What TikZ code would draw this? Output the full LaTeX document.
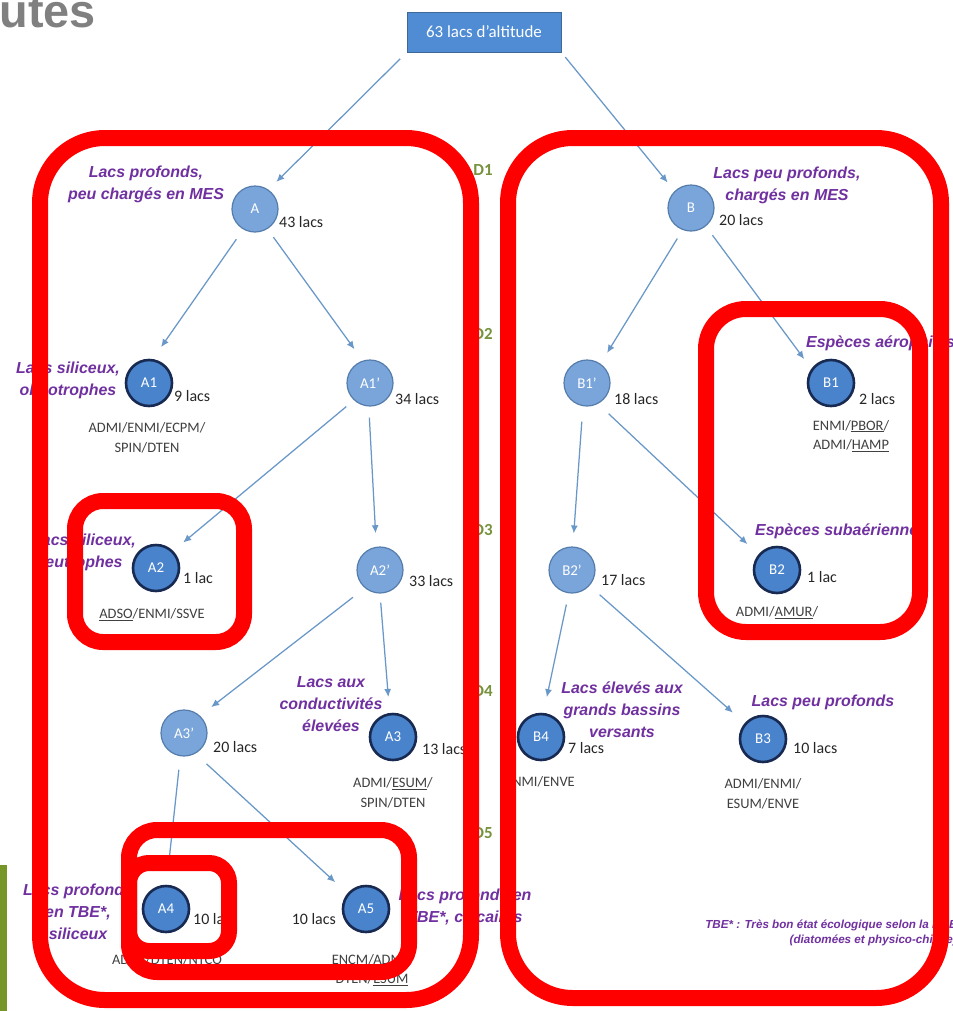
\documentclass[tikz,border=0pt]{standalone}
\usepackage{fontspec}
\setmainfont{Carlito}
\newfontfamily\lab{Liberation Sans}
\usetikzlibrary{arrows.meta}
\definecolor{redb}{RGB}{255,0,0}
\definecolor{arrowc}{RGB}{105,152,200}
\definecolor{lightfill}{RGB}{122,165,218}
\definecolor{lightdraw}{RGB}{85,125,172}
\definecolor{darkfill}{RGB}{72,131,204}
\definecolor{darkdraw}{RGB}{24,42,82}
\definecolor{purp}{RGB}{112,48,160}
\definecolor{dgreen}{RGB}{118,146,60}
\definecolor{codec}{RGB}{64,64,64}
\definecolor{boxfill}{RGB}{79,140,212}
\definecolor{boxdraw}{RGB}{62,104,150}
\definecolor{barg}{RGB}{118,150,40}
\begin{document}
\begin{tikzpicture}[x=1bp,y=-1bp,
  lightc/.style={circle,minimum size=46bp,inner sep=0pt,fill=lightfill,draw=lightdraw,line width=1.2bp,text=white,font=\fontsize{15}{15}\selectfont},
  darkc/.style={circle,minimum size=46bp,inner sep=0pt,fill=darkfill,draw=darkdraw,line width=2.6bp,text=white,font=\fontsize{15}{15}\selectfont},
  cnt/.style={anchor=west,inner sep=0pt,text=black!85,font=\fontsize{16}{16}\selectfont},
  code/.style={inner sep=0pt,align=center,text=codec,font=\fontsize{14.5}{20}\selectfont},
  plab/.style={inner sep=0pt,align=center,text=purp,font=\lab\bfseries\itshape\fontsize{16}{22}\selectfont},
  dlab/.style={inner sep=0pt,text=dgreen,font=\bfseries\fontsize{17}{17}\selectfont},
  redframe/.style={draw=redb,line width=16bp},
  arr/.style={draw=arrowc,line width=1.25bp,-{Latex[length=8bp,width=7bp]}}]
\useasboundingbox (0,0) rectangle (953,1011);
\clip (0,0) rectangle (953,1011);
\fill[white] (0,0) rectangle (953,1011);

% title fragment and side bar
\node[anchor=base east,inner sep=0pt,text=black!50,font=\lab\bfseries\fontsize{47}{47}\selectfont] (title) at (96,27) {utes};
\fill[barg] (0,865) rectangle (7,1011);

% top box
\node[rectangle,minimum width=154bp,minimum height=40bp,fill=boxfill,draw=boxdraw,line width=1bp,text=white,font=\fontsize{17}{17}\selectfont] (top) at (484,32) {63 lacs d’altitude};

% circles
\node[lightc] (A) at (255,209) {A};
\node[lightc] (B) at (691,208) {B};
\node[darkc] (A1) at (149,383) {A1};
\node[lightc] (A1p) at (370,383) {A1’};
\node[darkc] (A2) at (156,568) {A2};
\node[lightc] (A2p) at (380,570) {A2’};
\node[lightc] (A3p) at (184,733) {A3’};
\node[darkc] (A3) at (393,737) {A3};
\node[darkc] (A4) at (166,909) {A4};
\node[darkc] (A5) at (366,909) {A5};
\node[lightc] (B1p) at (587,383) {B1’};
\node[darkc] (B1) at (831,383) {B1};
\node[lightc] (B2p) at (572,570) {B2’};
\node[darkc] (B2) at (777,570) {B2};
\node[darkc] (B4) at (541,737) {B4};
\node[darkc] (B3) at (763,739) {B3};

% counts
\node[cnt] (nA) at (279,222) {43 lacs};
\node[cnt] (nB) at (719,220) {20 lacs};
\node[cnt] (nA1) at (174,396) {9 lacs};
\node[cnt] (nA1p) at (395,399) {34 lacs};
\node[cnt] (nA2) at (183,578) {1 lac};
\node[cnt] (nA2p) at (409,581) {33 lacs};
\node[cnt] (nA3p) at (213,747) {20 lacs};
\node[cnt] (nA3) at (422,749) {13 lacs};
\node[cnt] (nA4) at (193,919) {10 lacs};
\node[cnt,anchor=east] (nA5) at (336,919) {10 lacs};
\node[cnt] (nB1p) at (614,399) {18 lacs};
\node[cnt] (nB1) at (859,399) {2 lacs};
\node[cnt] (nB2p) at (601,580) {17 lacs};
\node[cnt] (nB2) at (807,577) {1 lac};
\node[cnt] (nB4) at (568,748) {7 lacs};
\node[cnt] (nB3) at (793,748) {10 lacs};

% codes
\node[code] (cA1) at (147,438) {ADMI/ENMI/ECPM/\\SPIN/DTEN};
\node[code] (cA2) at (152,615) {\underline{ADSO}/ENMI/SSVE};
\node[code] (cA3) at (393,793) {ADMI/\underline{ESUM}/\\SPIN/DTEN};
\node[code] (cA4) at (167,960) {ADMI/DTEN/NTCO};
\node[code] (cA5) at (372,970) {ENCM/ADMI/\\DTEN/\underline{ESUM}};
\node[code] (cB1) at (851,436) {ENMI/\underline{PBOR}/\\ADMI/\underline{HAMP}};
\node[code] (cB2) at (777,613) {ADMI/\underline{AMUR}/};
\node[code] (cB4) at (540,782) {ENMI/ENVE};
\node[code] (cB3) at (763,794) {ADMI/ENMI/\\ESUM/ENVE};

% purple labels
\node[plab] (lA) at (146,184) {Lacs profonds,\\peu chargés en MES};
\node[plab] (lB) at (787,185) {Lacs peu profonds,\\chargés en MES};
\node[plab] (lA1) at (68,380) {Lacs siliceux,\\oligotrophes};
\node[plab] (lA2) at (84,552) {Lacs siliceux,\\eutrophes};
\node[plab] (lA3) at (331,704) {Lacs aux\\conductivités\\élevées};
\node[plab] (lA4) at (78,912) {Lacs profonds\\en TBE*,\\siliceux};
\node[plab] (lA5) at (465,907) {Lacs profonds en\\TBE*, calcaires};
\node[plab,anchor=west] (lB1) at (806,343) {Espèces aérophiles};
\node[plab,anchor=west] (lB2) at (755,531) {Espèces subaériennes};
\node[plab] (lB4) at (622,710) {Lacs élevés aux\\grands bassins\\versants};
\node[plab] (lB3) at (823,702) {Lacs peu profonds};
\node[inner sep=0pt,align=right,anchor=east,text=purp,font=\lab\bfseries\itshape\fontsize{11.7}{15}\selectfont] (foot) at (957,933) {TBE* : Très bon état écologique selon la DCE\\(diatomées et physico-chimie)};

% level labels
\node[dlab] (D1) at (483,170) {D1};
\node[dlab] (D2) at (483,334) {D2};
\node[dlab] (D3) at (483,530) {D3};
\node[dlab] (D4) at (483,691) {D4};
\node[dlab] (D5) at (483,833) {D5};

% arrows
\draw[arr,shorten <=9bp,shorten >=11bp] (top.south west) -- (A.55);
\draw[arr,shorten <=6bp,shorten >=11bp] (top.south east) -- (B.134);
\draw[arr,shorten <=12bp,shorten >=14.5bp] (A.240) -- (A1.81);
\draw[arr,shorten <=10bp,shorten >=14bp] (A.302) -- (A1p.108);
\draw[arr,shorten <=10bp,shorten >=13bp] (A1p.227) -- (A2.45);
\draw[arr,shorten <=11bp,shorten >=13.5bp] (A1p.267) -- (A2p.99);
\draw[arr,shorten <=15bp,shorten >=14bp] (A2p.230) -- (A3p.47);
\draw[arr,shorten <=9bp,shorten >=16bp] (A2p.270) -- (A3.98);
\draw[arr,shorten <=13.5bp,shorten >=17bp] (A3p.261) -- (A4.89);
\draw[arr,shorten <=15bp,shorten >=16.5bp] (A3p.299) -- (A5.140);
\draw[arr,shorten <=10bp,shorten >=12.6bp] (B.249) -- (B1p.55);
\draw[arr,shorten <=11bp,shorten >=12bp] (B.309) -- (B1.144);
\draw[arr,shorten <=15.5bp,shorten >=13bp] (B1p.260) -- (B2p.88);
\draw[arr,shorten <=14.5bp,shorten >=15bp] (B1p.298) -- (B2.140);
\draw[arr,shorten <=11.4bp,shorten >=16bp] (B2p.262) -- (B4.84);
\draw[arr,shorten <=13.5bp,shorten >=15.7bp] (B2p.318) -- (B3.139);

% red frames
\draw[redframe,rounded corners=65bp] (40,138) rectangle (471,1000);
\draw[redframe,rounded corners=65bp] (508,138) rectangle (941,998);
\draw[redframe,rounded corners=40bp] (706,309) rectangle (920,632);
\draw[redframe,rounded corners=28bp] (75,501) rectangle (244,642);
\draw[redframe,rounded corners=28bp] (129,830) rectangle (409,972);
\draw[redframe,rounded corners=20bp] (129,863) rectangle (229,951);
\end{tikzpicture}
\end{document}
